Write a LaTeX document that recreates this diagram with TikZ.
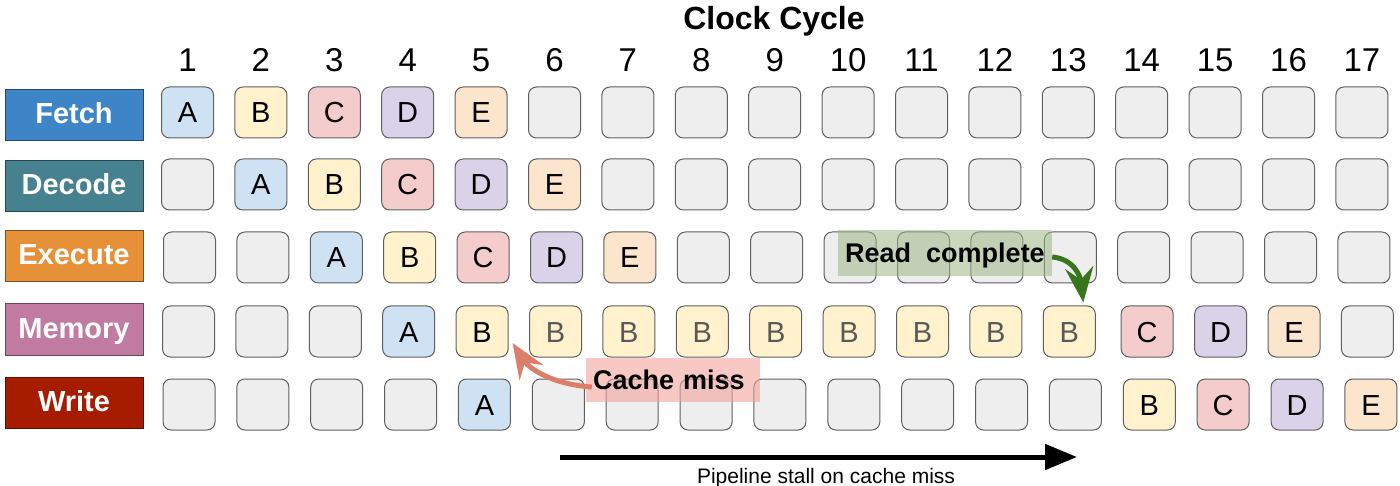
\documentclass[tikz,border=0pt]{standalone}
\usepackage{fontspec}
\setmainfont{Liberation Sans}
\usetikzlibrary{arrows.meta,calc}
\definecolor{cellA}{HTML}{CFE2F3}
\definecolor{cellB}{HTML}{FFF2CC}
\definecolor{cellC}{HTML}{F4CCCC}
\definecolor{cellD}{HTML}{D9D2E9}
\definecolor{cellE}{HTML}{FCE5CD}
\definecolor{cellN}{HTML}{EEEEEE}
\definecolor{cellLine}{HTML}{5F5F5F}
\definecolor{stallText}{HTML}{595959}
\definecolor{fetchC}{HTML}{3D85C6}
\definecolor{decodeC}{HTML}{45818E}
\definecolor{executeC}{HTML}{E69138}
\definecolor{memoryC}{HTML}{C27BA0}
\definecolor{writeC}{HTML}{A61C00}
\definecolor{missC}{HTML}{F2A49C}
\definecolor{missArrow}{HTML}{DD7E6B}
\definecolor{readC}{HTML}{9DB887}
\definecolor{readArrow}{HTML}{38761D}
\begin{document}
\begin{tikzpicture}[x=1pt,y=-1pt,
  cell/.style={draw=cellLine, line width=1pt, rounded corners=8pt,
    minimum width=52pt, minimum height=51pt, inner sep=0pt,
    font=\fontsize{29}{29}\selectfont, text height=21pt, text depth=0pt},
  ca/.style={fill=cellA}, cb/.style={fill=cellB}, cc/.style={fill=cellC},
  cd/.style={fill=cellD}, ce/.style={fill=cellE}, cn/.style={fill=cellN},
  cs/.style={fill=cellB, text=stallText},
  stage/.style={draw=#1!55!black, line width=1pt, fill=#1, text=white,
    minimum width=138pt, minimum height=51pt, inner sep=0pt,
    font=\bfseries\fontsize{29}{29}\selectfont, text height=21pt, text depth=4pt},
  num/.style={font=\fontsize{33}{33}\selectfont, text height=24pt, text depth=0pt, inner sep=0pt},
  note/.style={font=\bfseries\fontsize{27}{27}\selectfont, text height=19.5pt, text depth=0pt},
  curvy/.style={line width=5pt, -{Stealth[length=35pt,width=28pt,inset=12pt]}},
]
\useasboundingbox (0,0) rectangle (1400,486);

% title and cycle numbers
\node[font=\bfseries\fontsize{32}{32}\selectfont, text height=23pt, text depth=0pt, inner sep=0pt]
  (title) at (774,18.5) {Clock Cycle};
\foreach \c in {1,...,17}
  \node[num] (h\c) at ({187.5+(\c-1)*73.4}, 59.5) {\c};

% stage labels
\node[stage=fetchC]   (Lf) at (74,115.5) {Fetch};
\node[stage=decodeC]  (Ld) at (74,186.5) {Decode};
\node[stage=executeC] (Lx) at (74,256.5) {Execute};
\node[stage=memoryC]  (Lm) at (74,329.5) {Memory};
\node[stage=writeC]   (Lw) at (74,402.5) {Write};

% Fetch row
\foreach \c/\t/\s in {1/A/ca,2/B/cb,3/C/cc,4/D/cd,5/E/ce,6//cn,7//cn,8//cn,9//cn,10//cn,11//cn,12//cn,13//cn,14//cn,15//cn,16//cn,17//cn}
  \node[cell,\s] (F\c) at ({187.5+(\c-1)*73.4}, 112.5) {\t};
% Decode row
\foreach \c/\t/\s in {1//cn,2/A/ca,3/B/cb,4/C/cc,5/D/cd,6/E/ce,7//cn,8//cn,9//cn,10//cn,11//cn,12//cn,13//cn,14//cn,15//cn,16//cn,17//cn}
  \node[cell,\s] (D\c) at ({187.5+(\c-1)*73.4}, 184.5) {\t};
% Execute row
\foreach \c/\t/\s in {1//cn,2//cn,3/A/ca,4/B/cb,5/C/cc,6/D/cd,7/E/ce,8//cn,9//cn,10//cn,11//cn,12//cn,13//cn,14//cn,15//cn,16//cn,17//cn}
  \node[cell,\s] (X\c) at ({189.5+(\c-1)*73.4}, 257.5) {\t};
% Memory row
\foreach \c/\t/\s in {1//cn,2//cn,3//cn,4/A/ca,5/B/cb,6/B/cs,7/B/cs,8/B/cs,9/B/cs,10/B/cs,11/B/cs,12/B/cs,13/B/cs,14/C/cc,15/D/cd,16/E/ce,17//cn}{
  \pgfmathsetmacro\off{\c>13 ? 5.5 : 1}
  \node[cell,\s] (M\c) at ({187.5+(\c-1)*73.4+\off}, 331.5) {\t};
}
% Write row
\foreach \c/\t/\s in {1//cn,2//cn,3//cn,4//cn,5/A/ca,6//cn,7//cn,8//cn,9//cn,10//cn,11//cn,12//cn,13//cn,14/B/cb,15/C/cc,16/D/cd,17/E/ce}{
  \pgfmathsetmacro\off{1.5+(\c-1)*0.47}
  \node[cell,\s] (W\c) at ({187.5+(\c-1)*73.4+\off}, 404.5) {\t};
}

% annotations
\node[note, fill=missC, fill opacity=0.6, text opacity=1, inner xsep=7pt, inner ysep=0pt,
  text width=160pt, align=left, minimum height=44pt] (miss) at (673,380) {Cache miss};
\draw[missArrow, curvy]
  ([xshift=6pt,yshift=-7pt]miss.west) .. controls +(-45,-3) and +(14,22) .. ([xshift=4pt,yshift=-11.5pt]M5.east);

\node[note, fill=readC, fill opacity=0.55, text opacity=1, inner sep=0pt,
  minimum width=214pt, minimum height=46pt] (read) at (945,253) {Read\ \ complete};
\draw[readArrow, curvy]
  ([yshift=-4pt]read.east) .. controls +(22,2) and +(-3,-26) .. ([xshift=14pt,yshift=3pt]M13.north);

% stall arrow
\coordinate (s0) at (560,457);
\coordinate (s1) at (1077,457);
\draw[line width=5pt, -{Triangle[length=32pt,width=25pt]}] (s0) -- (s1);
\node[font=\fontsize{21}{21}\selectfont, text height=15pt, text depth=0pt, inner sep=0pt]
  (stall) at (826,475.5) {Pipeline stall on cache miss};
\end{tikzpicture}
\end{document}
